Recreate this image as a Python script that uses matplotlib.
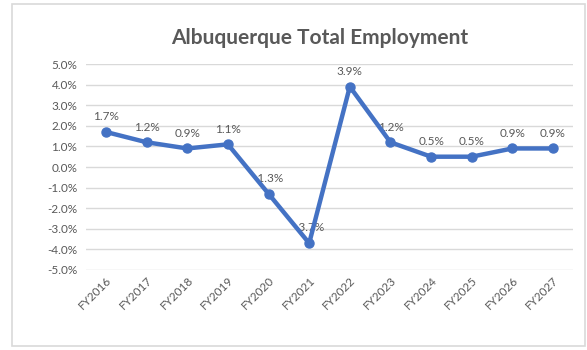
import matplotlib
matplotlib.use("Agg")
import matplotlib.pyplot as plt
from matplotlib.patches import Rectangle
from matplotlib.ticker import FuncFormatter

plt.rcParams['font.family'] = ['Lato', 'DejaVu Sans']

years = ["FY2016", "FY2017", "FY2018", "FY2019", "FY2020", "FY2021",
         "FY2022", "FY2023", "FY2024", "FY2025", "FY2026", "FY2027"]
growth = [1.7, 1.2, 0.9, 1.1, -1.3, -3.7, 3.9, 1.2, 0.5, 0.5, 0.9, 0.9]
y_ticks = [5, 4, 3, 2, 1, 0, -1, -2, -3, -4, -5]

W, H = 587, 350
fig = plt.figure(figsize=(W / 100, H / 100), dpi=100)
fig.patch.set_facecolor("white")

# outer chart frame
fig.add_artist(Rectangle((12 / W, 4 / H), (W - 14) / W, (H - 8) / H,
                         transform=fig.transFigure, fill=False,
                         edgecolor="#d9d9d9", linewidth=1.2))

ax = fig.add_axes([85.7 / W, 1 - 270 / H, (573.3 - 85.7) / W, (270 - 64) / H])
x = list(range(len(years)))
ax.plot(x, growth, color="#4472C4", linewidth=3.2, marker="o", markersize=6.5,
        zorder=3, solid_joinstyle="round")

ax.set_xlim(-0.5, len(years) - 0.5)
ax.set_ylim(-5, 5)
ax.set_yticks(y_ticks)
ax.yaxis.set_major_formatter(FuncFormatter(lambda v, p: f"{v:.1f}%"))
ax.grid(axis="y", color="#d9d9d9", linewidth=1)
ax.set_axisbelow(True)
for s in ax.spines.values():
    s.set_visible(False)
ax.tick_params(length=0, colors="#595959", labelsize=8.5)
ax.tick_params(axis="y", pad=6)
ax.set_xticks(x)
ax.set_xticklabels(years, rotation=45, ha="right", rotation_mode="anchor")

for xi, v in zip(x, growth):
    ax.annotate(f"{v:.1f}%", (xi, v), xytext=(0, 7), textcoords="offset points",
                ha="center", va="bottom", fontsize=8.5, color="#595959", zorder=2)

fig.text(320 / W, 1 - 38 / H, "Albuquerque Total Employment", ha="center",
         va="center", fontsize=15, fontweight="bold", color="#595959")

fig.savefig("out.png", dpi=100)
